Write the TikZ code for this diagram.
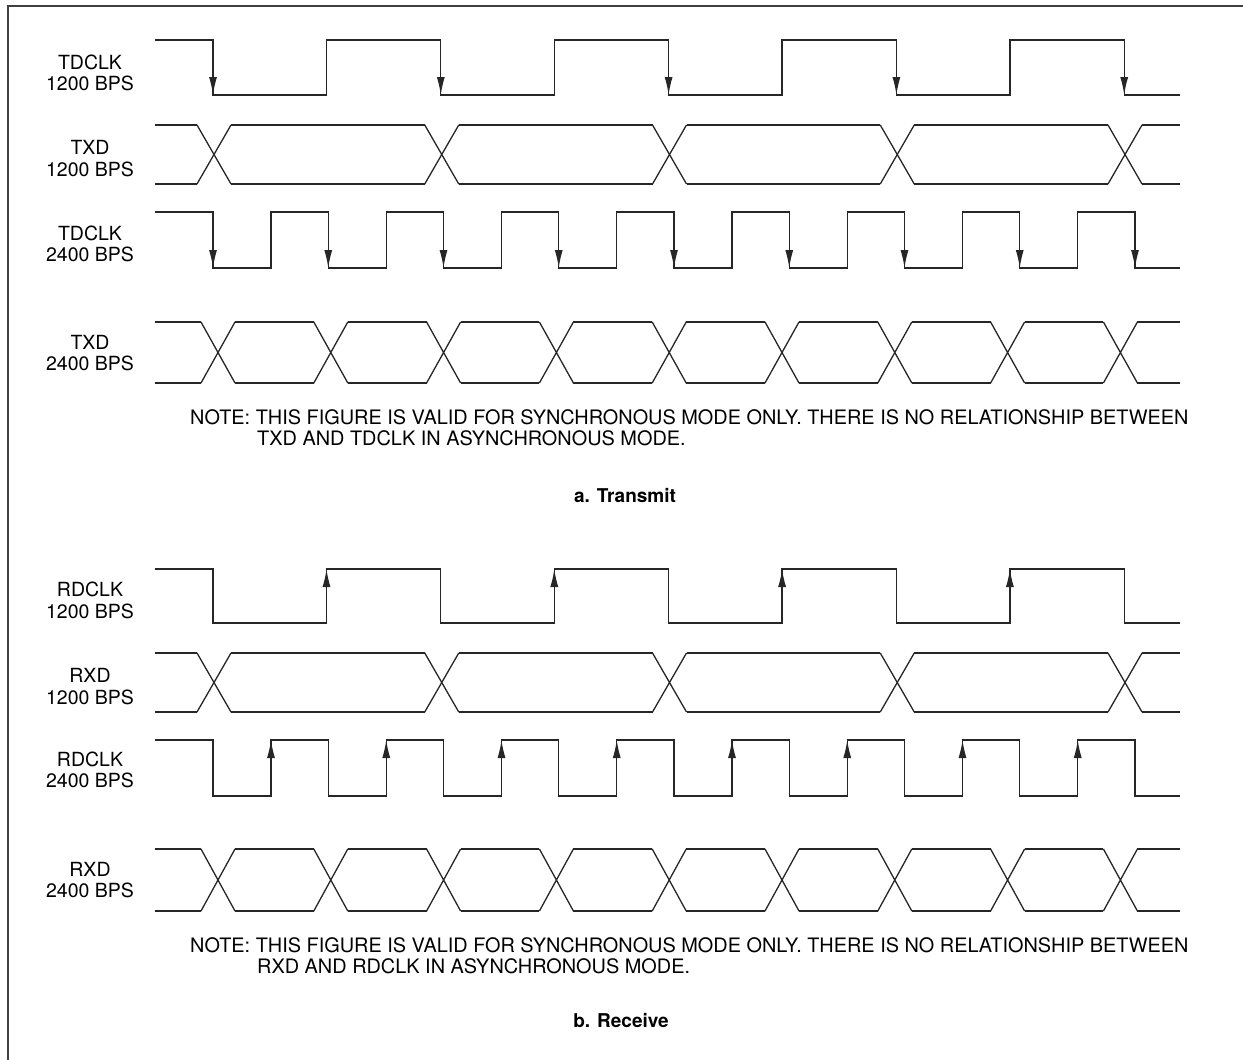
\documentclass[tikz,border=0pt]{standalone}
\usepackage{fontspec}
\setmainfont{TeX Gyre Heros}
\usetikzlibrary{positioning,arrows.meta}

% clock: high y, low y, first fall, period, low width, last fall index
\newcommand{\clockline}[6]{%
  \draw[wave] (155,#1) \foreach \i in {1,...,#6} {
      -| ({#3+(\i-1)*#4},#2) -| ({#3+(\i-1)*#4+#5},#1) }
    -| ({#3+#6*#4},#2) -- (1180,#2);
}
% data eye: high y, low y, first crossing, spacing, last crossing index
\newcommand{\dataeye}[5]{%
  \draw[wave] (155,#1) -- ({#3-17},#1) (155,#2) -- ({#3-17},#2);
  \foreach \k in {0,...,#5} {
    \draw[wave] ({#3+\k*#4-17},#1) -- ({#3+\k*#4+17},#2)
                ({#3+\k*#4-17},#2) -- ({#3+\k*#4+17},#1);
  }
  \foreach \k in {1,...,#5} {
    \draw[wave] ({#3+(\k-1)*#4+17},#1) -- ({#3+\k*#4-17},#1)
                ({#3+(\k-1)*#4+17},#2) -- ({#3+\k*#4-17},#2);
  }
  \draw[wave] ({#3+#5*#4+17},#1) -- (1180,#1) ({#3+#5*#4+17},#2) -- (1180,#2);
}

\begin{document}
\begin{tikzpicture}[
        x=1pt, y=-1pt,
        wave/.style={line width=1.3pt, draw=black!85},
        edgearrow/.style={line width=1.3pt, draw=black!85, -{Latex[length=18pt,width=8pt]}},
        border/.style={line width=2pt, draw=black!75},
        sig/.style={align=center, inner sep=0pt, font=\fontsize{19.5}{21.5}\selectfont},
        notetext/.style={align=left, inner sep=0pt, anchor=base west, font=\fontsize{19.9}{21}\selectfont},
        captext/.style={inner sep=0pt, anchor=base, font=\bfseries\fontsize{19}{21}\selectfont}
    ]
        \useasboundingbox (0,0) rectangle (1243,1060);
        \draw[border] (8,1060) -- (8,6) -- (1243,6);

        % Transmit side
        \node[sig] (tdclkA) at (90,73) {TDCLK\\1200 BPS};
        \node[sig] (txdA) at (90,158.5) {TXD\\1200 BPS};
        \node[sig] (tdclkB) at (90,244) {TDCLK\\2400 BPS};
        \node[sig] (txdB) at (90,353) {TXD\\2400 BPS};

        \clockline{40}{95}{213}{227.8}{113.5}{4}
        \foreach \i in {0,...,4} \draw[edgearrow] ({213+\i*227.8},40) -- ({213+\i*227.8},95);
        \dataeye{125}{184}{214}{227.75}{4}
        \clockline{212}{268}{213}{115.25}{58}{8}
        \foreach \i in {0,...,8} \draw[edgearrow] ({213+\i*115.25},212) -- ({213+\i*115.25},268);
        \dataeye{322}{383}{218}{112.8}{8}

        \node[notetext] (noteT) at (190,445) {NOTE: THIS FIGURE IS VALID FOR SYNCHRONOUS MODE ONLY. THERE IS NO RELATIONSHIP BETWEEN\\\hspace*{67pt}TXD AND TDCLK IN ASYNCHRONOUS MODE.};
        \node[captext] (capT) at (625,502) {a. Transmit};

        % Receive side
        \node[sig] (rdclkA) at (90,600.5) {RDCLK\\1200 BPS};
        \node[sig] (rxdA) at (90,686.5) {RXD\\1200 BPS};
        \node[sig] (rdclkB) at (90,770) {RDCLK\\2400 BPS};
        \node[sig] (rxdB) at (90,880) {RXD\\2400 BPS};

        \clockline{569}{623}{213}{227.8}{113.5}{4}
        \foreach \i in {0,...,3} \draw[edgearrow] ({326.5+\i*227.8},623) -- ({326.5+\i*227.8},569);
        \dataeye{653}{712}{214}{227.75}{4}
        \clockline{740}{796}{213}{115.25}{58}{8}
        \foreach \i in {0,...,7} \draw[edgearrow] ({271+\i*115.25},796) -- ({271+\i*115.25},740);
        \dataeye{849}{911}{218}{112.8}{8}

        \node[notetext] (noteR) at (190,973) {NOTE: THIS FIGURE IS VALID FOR SYNCHRONOUS MODE ONLY. THERE IS NO RELATIONSHIP BETWEEN\\\hspace*{67pt}RXD AND RDCLK IN ASYNCHRONOUS MODE.};
        \node[captext] (capR) at (621,1027) {b. Receive};
    \end{tikzpicture}
\end{document}
